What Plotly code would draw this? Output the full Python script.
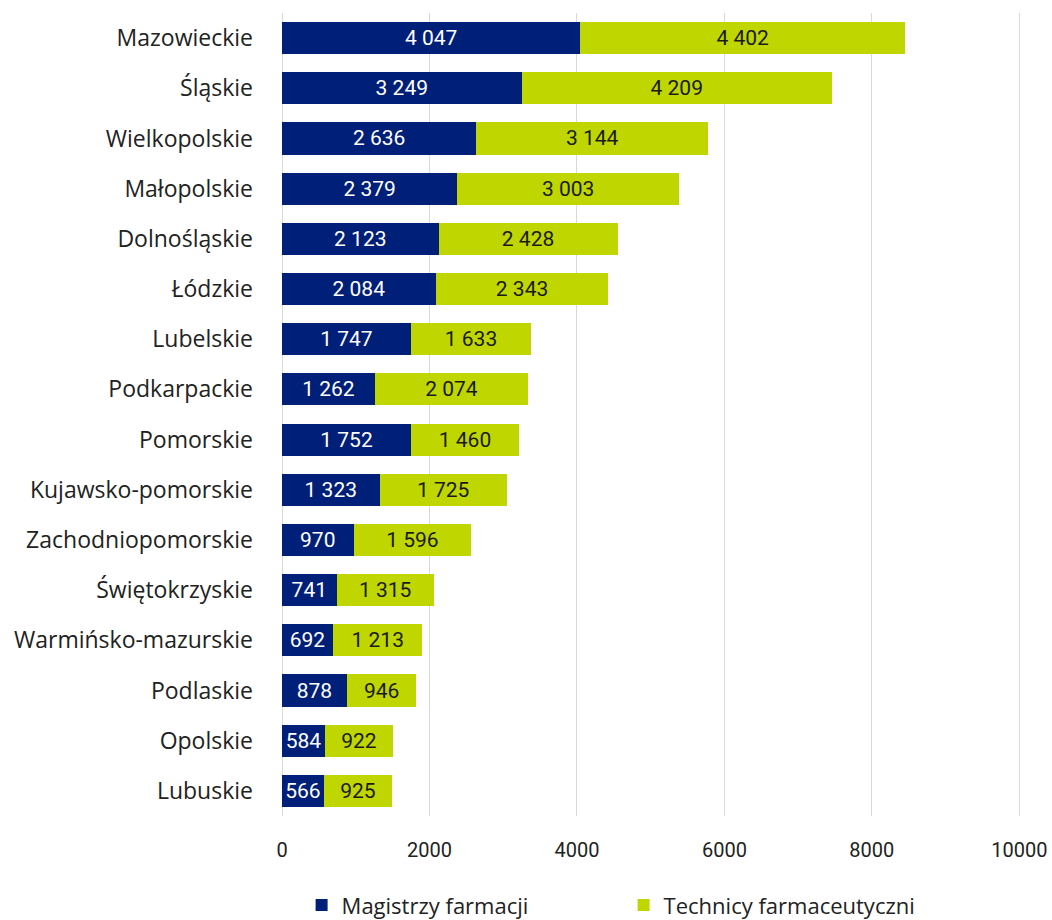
import plotly.graph_objects as go

regions = ["Mazowieckie", "Śląskie", "Wielkopolskie", "Małopolskie", "Dolnośląskie",
           "Łódzkie", "Lubelskie", "Podkarpackie", "Pomorskie", "Kujawsko-pomorskie",
           "Zachodniopomorskie", "Świętokrzyskie", "Warmińsko-mazurskie", "Podlaskie",
           "Opolskie", "Lubuskie"]
magistrzy = [4047, 3249, 2636, 2379, 2123, 2084, 1747, 1262, 1752, 1323, 970, 741, 692, 878, 584, 566]
technicy = [4402, 4209, 3144, 3003, 2428, 2343, 1633, 2074, 1460, 1725, 1596, 1315, 1213, 946, 922, 925]
x_ticks = [0, 2000, 4000, 6000, 8000, 10000]

def fmt(v):
    return f"{v:,}".replace(",", " ")

LABEL_FONT = "Open Sans"
NUM_FONT = "Roboto"
BLUE = "#001F78"
GREEN = "#BFD600"

fig = go.Figure()
fig.add_trace(go.Bar(
    y=regions, x=magistrzy, orientation="h", name="Magistrzy farmacji",
    marker=dict(color=BLUE, line=dict(width=0)),
    text=[fmt(v) for v in magistrzy], textposition="inside", insidetextanchor="middle",
    textfont=dict(color="white", size=21, family=NUM_FONT), constraintext="none",
))
fig.add_trace(go.Bar(
    y=regions, x=technicy, orientation="h", name="Technicy farmaceutyczni",
    marker=dict(color=GREEN, line=dict(width=0)),
    text=[fmt(v) for v in technicy], textposition="inside", insidetextanchor="middle",
    textfont=dict(color="#1a1a1a", size=21, family=NUM_FONT), constraintext="none",
))

fig.update_layout(
    barmode="stack", bargap=0.36,
    width=1052, height=920,
    margin=dict(l=282, r=29, t=13, b=104, autoexpand=False),
    plot_bgcolor="white", paper_bgcolor="white",
    font=dict(family=LABEL_FONT, size=22, color="#222222"),
    showlegend=True,
    legend=dict(orientation="h", x=0.461, xanchor="center", y=-0.085, yanchor="top",
                font=dict(size=22, family=LABEL_FONT, color="#222222"),
                entrywidth=277, entrywidthmode="pixels", traceorder="normal"),
    xaxis=dict(range=[0, 10050], tickvals=x_ticks, ticktext=[str(t) for t in x_ticks],
               showgrid=True, gridcolor="#d9d9d9", gridwidth=1, zeroline=True,
               zerolinecolor="#d9d9d9", zerolinewidth=1, showline=False, automargin=False,
               tickfont=dict(size=20, family=NUM_FONT, color="#222222"), ticks="", ticklabelstandoff=20),
    yaxis=dict(autorange="reversed", showgrid=False, showline=False, ticks="", automargin=False,
               tickfont=dict(size=23, family=LABEL_FONT, color="#222222"), ticklabelstandoff=28),
)

fig.write_html("out.html", config={"displayModeBar": False},
               post_script="document.body.style.margin='0';document.body.style.overflow='hidden';")
